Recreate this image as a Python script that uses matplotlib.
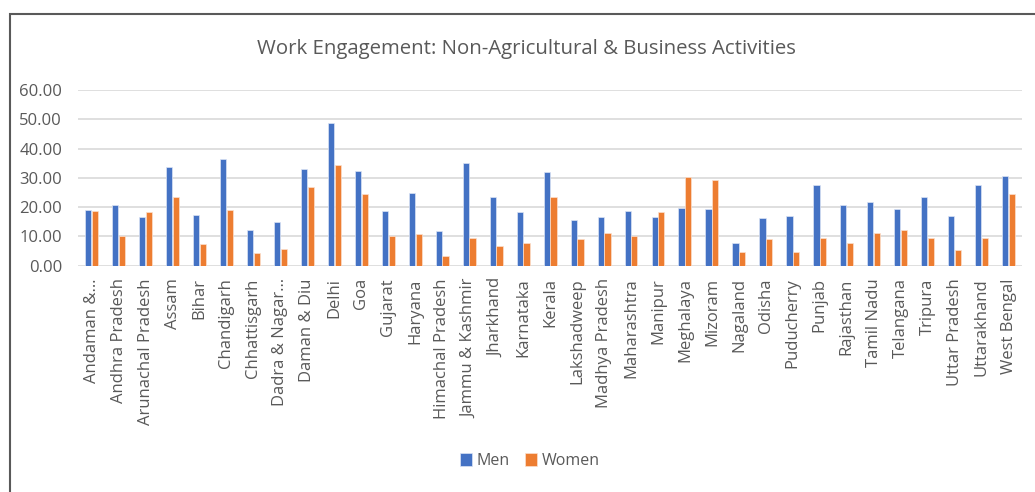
import numpy as np
import matplotlib.pyplot as plt
from matplotlib.patches import Rectangle

# State-wise share engaged in non-agricultural & business work
states = ["Andaman &…", "Andhra Pradesh", "Arunachal Pradesh", "Assam", "Bihar",
          "Chandigarh", "Chhattisgarh", "Dadra & Nagar…", "Daman & Diu", "Delhi",
          "Goa", "Gujarat", "Haryana", "Himachal Pradesh", "Jammu & Kashmir",
          "Jharkhand", "Karnataka", "Kerala", "Lakshadweep", "Madhya Pradesh",
          "Maharashtra", "Manipur", "Meghalaya", "Mizoram", "Nagaland", "Odisha",
          "Puducherry", "Punjab", "Rajasthan", "Tamil Nadu", "Telangana",
          "Tripura", "Uttar Pradesh", "Uttarakhand", "West Bengal"]
men = [19.0, 20.8, 16.5, 33.8, 17.4, 36.3, 12.2, 14.8, 33.1, 48.7,
       32.2, 18.6, 24.7, 11.9, 35.2, 23.6, 18.4, 32.0, 15.7, 16.5,
       18.6, 16.5, 19.7, 19.4, 7.8, 16.3, 17.1, 27.5, 20.8, 21.9,
       19.5, 23.3, 17.0, 27.5, 30.7]
women = [18.6, 10.3, 18.5, 23.3, 7.4, 19.0, 4.4, 5.8, 27.0, 34.4,
         24.4, 10.3, 10.7, 3.2, 9.6, 6.7, 7.6, 23.6, 9.1, 11.1,
         10.3, 18.5, 30.2, 29.2, 4.7, 9.1, 4.6, 9.5, 7.6, 11.1,
         12.3, 9.6, 5.5, 9.6, 24.4]
yticks = [0, 10, 20, 30, 40, 50, 60]

BLUE = "#4472C4"
ORANGE = "#ED7D31"
TEXT = "#595959"
plt.rcParams["font.family"] = ["Open Sans", "DejaVu Sans"]

fig = plt.figure(figsize=(10.35, 4.92), dpi=100)
# outer chart border
fig.patches.append(Rectangle((10 / 1035, -0.05), 1.1, 1 - 14 / 492 + 0.05,
                             transform=fig.transFigure, fill=False,
                             edgecolor="#595959", lw=1.5))

ax = fig.add_axes([0.0755, 0.46, 0.912, 0.357])
x = np.arange(len(states))
w = 0.23
ax.bar(x - w / 2 - 0.01, men, w, color=BLUE, edgecolor="#dbe4f5", lw=0.5,
       label="Men", zorder=3)
ax.bar(x + w / 2 + 0.01, women, w, color=ORANGE, edgecolor="#fbe0cf", lw=0.5,
       label="Women", zorder=3)

ax.set_xlim(-0.5, len(states) - 0.5)
ax.set_ylim(0, 60)
ax.set_yticks(yticks)
ax.set_yticklabels([f"{v:.2f}" for v in yticks], fontsize=12, color=TEXT)
ax.set_xticks(x)
ax.set_xticklabels(states, rotation=90, fontsize=12, color=TEXT)
ax.tick_params(axis="y", length=0, pad=11.5)
ax.tick_params(axis="x", length=0, pad=9)
ax.grid(axis="y", color="#d9d9d9", lw=1.2, zorder=0)
for s in ax.spines.values():
    s.set_visible(False)

fig.text(0.509, 0.90, "Work Engagement: Non-Agricultural & Business Activities",
         ha="center", va="center", fontsize=14.7, color=TEXT)
leg = ax.legend(loc="center", ncol=2, frameon=False, fontsize=11.5,
                handlelength=0.75, handleheight=0.9, handletextpad=0.3,
                columnspacing=1.0, labelcolor=TEXT)
leg.set_bbox_to_anchor((0.512, 1 - 461 / 492), transform=fig.transFigure)

fig.savefig("out.png", dpi=100)
